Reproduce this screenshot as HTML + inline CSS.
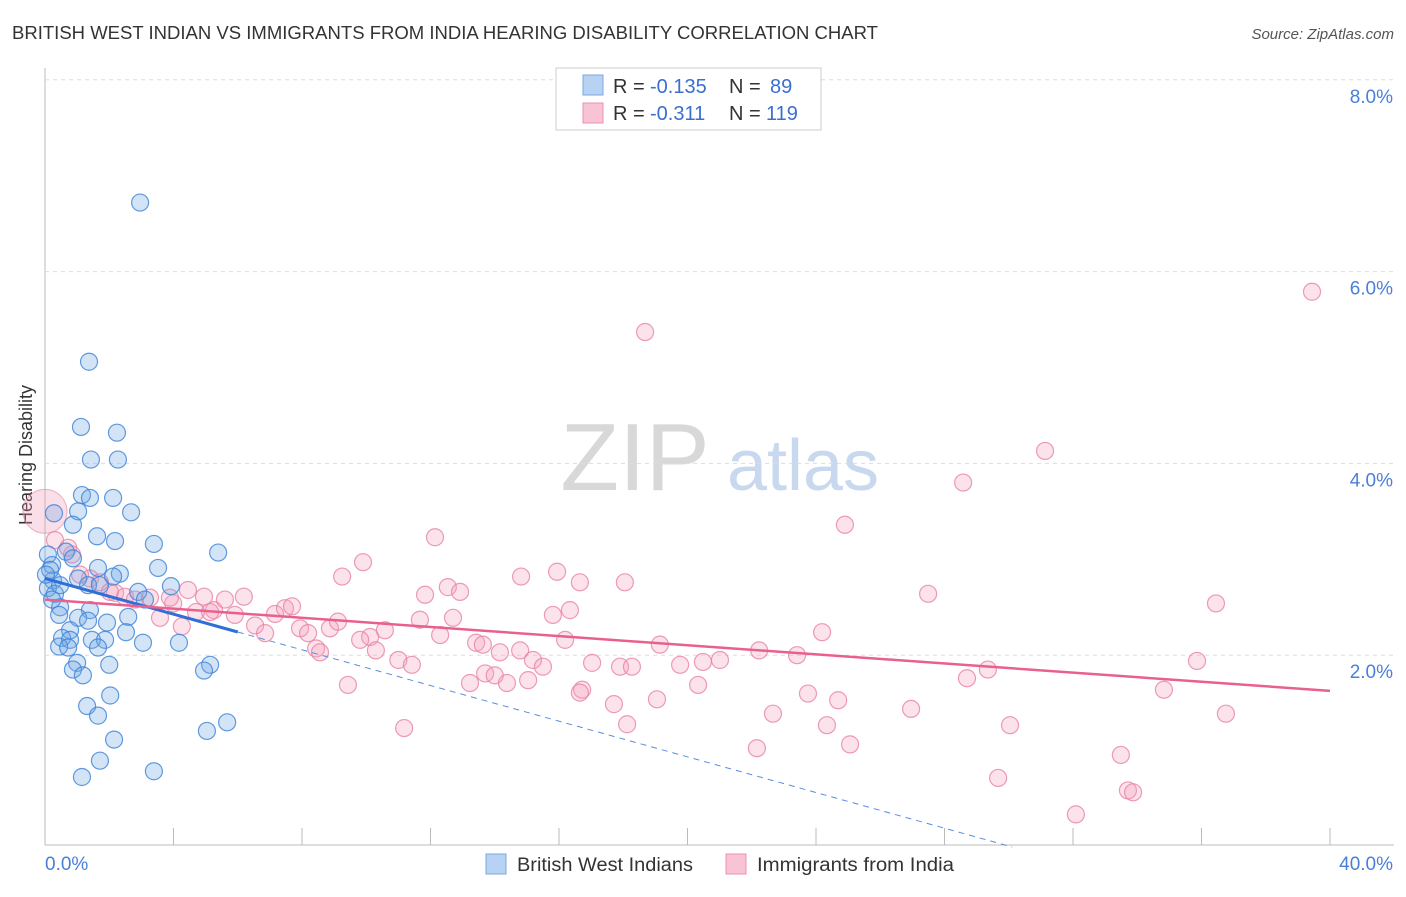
<!DOCTYPE html>
<html><head><meta charset="utf-8"><style>
body{margin:0;background:#fff;font-family:"Liberation Sans",sans-serif}
svg text{font-family:"Liberation Sans",sans-serif}
</style></head><body>
<svg id="c" width="1406" height="892">
<text x="12" y="39" font-size="18" fill="#333" textLength="866" lengthAdjust="spacingAndGlyphs">BRITISH WEST INDIAN VS IMMIGRANTS FROM INDIA HEARING DISABILITY CORRELATION CHART</text>
<text x="1394" y="39" font-size="15" fill="#555" text-anchor="end" font-style="italic">Source: ZipAtlas.com</text>
<text x="32" y="455" font-size="18" fill="#333" text-anchor="middle" transform="rotate(-90 32 455)">Hearing Disability</text>
<g><text x="635" y="490" font-size="96" fill="#d8d8d8" text-anchor="middle" font-family="Liberation Serif">ZIP</text><text x="803" y="490" font-size="72" fill="#c8d8ee" text-anchor="middle">atlas</text></g>
<g id="grid"></g><g id="marks"></g>
<g>
<rect x="556" y="68" width="265" height="62" fill="#fff" stroke="#ccc"/>
<rect x="583" y="75" width="20" height="20" fill="#b8d2f4" stroke="#7aa8e0"/>
<text x="613" y="93" font-size="20" fill="#333">R =</text><text x="650" y="93" font-size="20" fill="#3a6fd0">-0.135</text>
<text x="729" y="93" font-size="20" fill="#333">N =</text><text x="770" y="93" font-size="20" fill="#3a6fd0">89</text>
<rect x="583" y="103" width="20" height="20" fill="#f8c4d4" stroke="#e890b0"/>
<text x="613" y="120" font-size="20" fill="#333">R =</text><text x="650" y="120" font-size="20" fill="#3a6fd0">-0.311</text>
<text x="729" y="120" font-size="20" fill="#333">N =</text><text x="766" y="120" font-size="20" fill="#3a6fd0">119</text>
</g>
<g>
<rect x="486" y="854" width="20" height="20" fill="#b8d2f4" stroke="#7aa8e0"/>
<text x="517" y="871" font-size="19" fill="#333" textLength="176" lengthAdjust="spacingAndGlyphs">British West Indians</text>
<rect x="726" y="854" width="20" height="20" fill="#f8c4d4" stroke="#e890b0"/>
<text x="757" y="871" font-size="19" fill="#333" textLength="197" lengthAdjust="spacingAndGlyphs">Immigrants from India</text>
</g>
</svg>
<script>
const yTicks=[2,4,6,8];
const yTickLabels=["2.0%","4.0%","6.0%","8.0%"];
const xTickLabels=["0.0%","40.0%"];
const blueX=[2.96,1.37,1.12,2.24,1.43,2.27,1.15,1.40,2.12,0.28,1.03,2.68,0.87,1.62,2.18,3.39,5.39,0.65,0.09,0.87,3.52,1.65,0.22,2.33,1.03,0.25,3.92,0.09,1.34,2.12,2.90,0.31,0.47,1.40,0.44,1.03,1.93,2.59,1.34,2.52,0.78,0.53,1.46,0.78,1.87,3.05,4.17,1.65,0.44,0.72,1.00,2.00,5.14,4.95,0.87,1.18,2.03,1.31,1.65,5.67,5.04,2.15,1.71,3.39,1.15,0.16,0.03,0.22,0.47,1.71,3.11];
const blueY=[6.72,5.06,4.38,4.32,4.04,4.04,3.67,3.64,3.64,3.48,3.50,3.49,3.36,3.24,3.19,3.16,3.07,3.08,3.05,3.01,2.91,2.91,2.94,2.85,2.80,2.78,2.72,2.70,2.73,2.82,2.66,2.64,2.50,2.47,2.42,2.39,2.34,2.40,2.36,2.24,2.26,2.18,2.16,2.16,2.16,2.13,2.13,2.08,2.09,2.08,1.92,1.90,1.90,1.84,1.85,1.79,1.58,1.47,1.37,1.30,1.21,1.12,0.90,0.79,0.73,2.89,2.84,2.58,2.73,2.73,2.58];
const pinkX=[39.44,18.68,31.13,28.58,24.90,12.14,9.90,15.94,14.82,9.25,16.65,18.05,12.54,12.92,11.83,27.49,36.45,16.34,15.81,12.70,11.67,24.19,12.30,10.58,10.12,16.19,13.42,13.63,19.14,14.79,22.23,14.16,10.30,23.41,15.19,11.00,17.03,17.90,18.27,19.77,20.48,21.01,35.86,11.42,15.50,13.70,14.00,29.35,28.70,13.23,14.38,15.04,20.33,9.43,16.72,16.65,34.83,23.75,24.69,19.05,17.71,26.96,22.66,36.76,18.12,24.34,30.04,11.18,25.06,22.16,33.49,29.67,33.71,33.87,32.09,1.40,1.71,2.18,2.49,2.80,3.27,3.58,3.99,4.45,4.70,4.95,5.26,5.60,5.91,6.19,6.54,6.85,7.16,7.47,7.69,7.94,8.19,8.44,8.56,8.87,9.12,9.81,4.26,0.84,0.31,0.72,1.09,2.02,3.89,5.14];
const pinkY=[5.79,5.37,4.13,3.80,3.36,3.23,2.97,2.87,2.82,2.82,2.76,2.76,2.71,2.66,2.63,2.64,2.54,2.47,2.42,2.39,2.37,2.24,2.21,2.26,2.19,2.16,2.13,2.11,2.11,2.05,2.05,2.03,2.05,2.00,1.95,1.95,1.92,1.88,1.88,1.90,1.93,1.95,1.94,1.90,1.88,1.81,1.79,1.85,1.76,1.71,1.71,1.74,1.69,1.69,1.64,1.61,1.64,1.60,1.53,1.54,1.49,1.44,1.39,1.39,1.28,1.27,1.27,1.24,1.07,1.03,0.96,0.72,0.59,0.57,0.34,2.80,2.76,2.65,2.61,2.58,2.60,2.39,2.54,2.68,2.45,2.61,2.47,2.58,2.42,2.61,2.31,2.23,2.43,2.49,2.51,2.28,2.23,2.07,2.03,2.28,2.35,2.16,2.30,3.05,3.20,3.12,2.84,2.66,2.60,2.45];
const bigPink=[0,3.5];
const blueTrend=[2.80,-0.093];
const pinkTrend=[2.58,-0.0238];
const X=v=>45+v/40*1285, Y=v=>847-v*95.9;
const NS="http://www.w3.org/2000/svg";
const grid=document.getElementById('grid'),marks=document.getElementById('marks');
function mk(p,tag,a){const e=document.createElementNS(NS,tag);for(const k in a)e.setAttribute(k,a[k]);p.appendChild(e);return e;}
let ax=mk(grid,'line',{x1:45,y1:68,x2:45,y2:845,stroke:'#bbb'});


let bx=mk(grid,'line',{x1:45,y1:845,x2:1394,y2:845,stroke:'#bbb'});


yTicks.forEach((t,i)=>{
 const g=mk(grid,'line',{x1:45,y1:Y(t),x2:1394,y2:Y(t),stroke:'#ddd','stroke-dasharray':'4 4'});
 
 
 const l=mk(grid,'text',{x:1393,y:Y(t)+23,'font-size':19,fill:'#4a7fd8','text-anchor':'end'});l.textContent=yTickLabels[i];
 
 
});
for(let i=1;i<=10;i++){const tk=mk(grid,'line',{x1:X(i*4),y1:828,x2:X(i*4),y2:845,stroke:'#bbb'});
 
 }
[[0,45,'start'],[1,1393,'end']].forEach(([i,x,a])=>{const l=mk(grid,'text',{x:x,y:870,'font-size':19,fill:'#4a7fd8','text-anchor':a});l.textContent=xTickLabels[i];
 
 });
let bp=mk(marks,'circle',{cx:X(bigPink[0]),cy:Y(bigPink[1]),r:22,fill:'rgba(240,150,180,0.3)',stroke:'rgba(232,130,165,0.6)'});


pinkX.forEach((x,i)=>{const c=mk(marks,'circle',{cx:X(x),cy:Y(pinkY[i]),r:8.5,fill:'rgba(245,160,190,0.3)',stroke:'rgba(232,130,165,0.8)','stroke-width':1.2});
 
 });
blueX.forEach((x,i)=>{const c=mk(marks,'circle',{cx:X(x),cy:Y(blueY[i]),r:8.5,fill:'rgba(110,165,230,0.3)',stroke:'rgba(60,130,215,0.8)','stroke-width':1.2});
 
 });
const xEnd=-blueTrend[0]/blueTrend[1];
let bt=mk(marks,'line',{x1:X(0),y1:Y(blueTrend[0]),x2:X(6),y2:Y(blueTrend[0]+6*blueTrend[1]),stroke:'#2f6fd6','stroke-width':3});


let bd=mk(marks,'line',{x1:X(6),y1:Y(blueTrend[0]+6*blueTrend[1]),x2:X(xEnd),y2:Y(0),stroke:'#5a8ee0','stroke-width':1,'stroke-dasharray':'6 5'});


let pt=mk(marks,'line',{x1:X(0),y1:Y(pinkTrend[0]),x2:X(40),y2:Y(pinkTrend[0]+40*pinkTrend[1]),stroke:'#e8608f','stroke-width':2.5});


</script>
</body></html>
